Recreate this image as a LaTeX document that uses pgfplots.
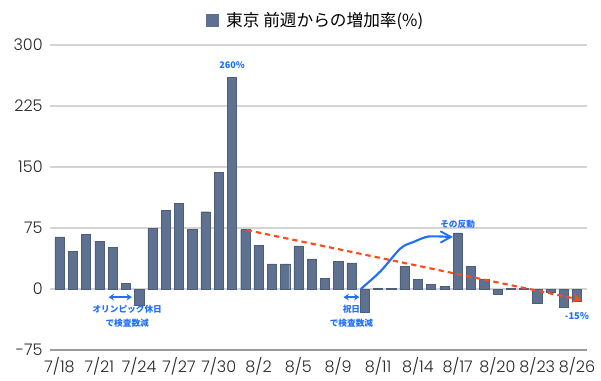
\documentclass[border=0pt]{standalone}
\usepackage{fontspec}
\setmainfont{Noto Sans CJK JP}
\newfontfamily\numfont{Poppins Light}
\usepackage{pgfplots}
\pgfplotsset{compat=1.18}
\usetikzlibrary{arrows.meta}
\definecolor{barfill}{HTML}{5E7190}
\definecolor{bardraw}{HTML}{4D5E78}
\definecolor{annblue}{HTML}{1F6FFF}
\definecolor{trendred}{HTML}{FF4A1A}
\definecolor{gridgray}{HTML}{D4D4D4}
\begin{document}
\begin{tikzpicture}[x=1pt,y=1pt]
\useasboundingbox (-37.5,-22.5) rectangle (413.25,262.5);
\begin{axis}[
  at={(0,0)}, anchor=south west,
  scale only axis, width=402.75pt, height=228.75pt,
  xmin=-0.72, xmax=39.75, ymin=-75, ymax=300,
  ytick={-75,0,75,150,225,300},
  xtick={0,3,...,39},
  xticklabels={7/18,7/21,7/24,7/27,7/30,8/2,8/5,8/9,8/11,8/14,8/17,8/20,8/23,8/26},
  major tick length=0pt,
  axis x line*=bottom,
  axis y line*=left,
  y axis line style={draw=none},
  x axis line style={draw=gray!80, line width=0.8pt, -},
  ymajorgrids, grid style={draw=gridgray, line width=0.8pt},
  tick label style={font=\numfont\fontsize{12}{14}\selectfont, text=black!85},
  /pgf/number format/assume math mode=true,
  yticklabel style={anchor=east, xshift=-2pt},
  xticklabel style={yshift=-2pt},
  legend style={at={(0.5,1)}, anchor=south, yshift=8pt, draw=none, fill=none,
    font=\fontsize{12.5}{14}\selectfont, legend cell align=left},
  legend image code/.code={\fill[barfill] (0pt,-4.5pt) rectangle (9pt,4.5pt);},
  legend style={nodes={inner xsep=6pt}},
  clip=false,
]
\addplot[ybar, bar width=6.9pt, fill=barfill, draw=bardraw, line width=0.3pt] coordinates {
(0,64) (1,46) (2,67) (3,59) (4,51) (5,7) (6,-20) (7,75) (8,97) (9,105)
(10,73) (11,95) (12,143) (13,260) (14,73) (15,54) (16,31) (17,31) (18,53) (19,37)
(20,13) (21,34) (22,32) (23,-29) (24,1) (25,0.5) (26,28) (27,12) (28,6) (29,3)
(30,69) (31,28) (32,12) (33,-6) (34,1) (35,1.2) (36,-17) (37,-4) (38,-22) (39,-15)
};
\addlegendentry{東京 前週からの増加率(\%)}
% trend arrow
\addplot[trendred, line width=1.6pt, dash pattern=on 4pt off 3pt, -{Stealth[length=7pt,width=7pt]}, forget plot] coordinates {(14.1,72.5) (39.35,-13.5)};
% rebound curve
\addplot[annblue, line width=1.6pt, smooth, forget plot] coordinates {(22.7,0) (24.2,22) (25.7,50) (26.7,58) (27.8,64.5) (29.4,64)};
\draw[annblue, line width=1.4pt] (axis cs:28.7,71) -- (axis cs:29.5,64) -- (axis cs:28.7,57);
% double arrows
\draw[annblue, line width=1.3pt, {Stealth[length=4pt,width=5pt]}-{Stealth[length=4pt,width=5pt]}] (axis cs:3.7,-10) -- (axis cs:5.45,-10);
\draw[annblue, line width=1.3pt, {Stealth[length=4pt,width=5pt]}-{Stealth[length=4pt,width=5pt]}] (axis cs:21.4,-10) -- (axis cs:22.6,-10);
% labels
\node[annblue, font=\fontsize{6.8}{8}\selectfont\bfseries] at (axis cs:13,265) [anchor=south] {260\%};
\node[annblue, font=\fontsize{6.5}{8}\selectfont\bfseries] at (axis cs:5.1,-25) {オリンピック休日};
\node[annblue, font=\fontsize{6.5}{8}\selectfont\bfseries] at (axis cs:5.1,-42.5) {で検査数減};
\node[annblue, font=\fontsize{6.5}{8}\selectfont\bfseries] at (axis cs:22,-25) {祝日};
\node[annblue, font=\fontsize{6.5}{8}\selectfont\bfseries] at (axis cs:22,-42.5) {で検査数減};
\node[annblue, font=\fontsize{6.5}{8}\selectfont\bfseries] at (axis cs:30,79) {その反動};
\node[annblue, font=\fontsize{7}{8}\selectfont\bfseries] at (axis cs:39,-33) {-15\%};
\end{axis}
\end{tikzpicture}
\end{document}
